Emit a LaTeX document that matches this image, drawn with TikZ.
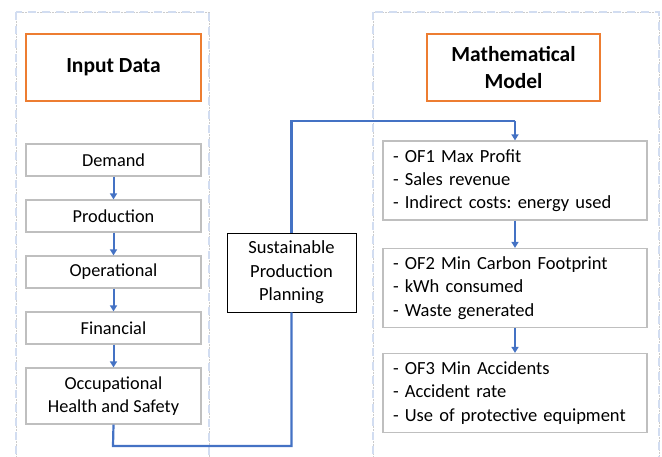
\documentclass[tikz,border=0pt]{standalone}
\usepackage{fontspec}
\setmainfont{Carlito}
\frenchspacing
\usetikzlibrary{arrows.meta}
\definecolor{cblue}{HTML}{4472C4}
\definecolor{corange}{HTML}{ED7D31}
\definecolor{cgrey}{HTML}{BFBFBF}
\definecolor{cdash}{HTML}{D2DDF1}
\tikzset{
  container/.style={draw=cdash, line width=2.4pt, dash pattern=on 8pt off 6pt},
  containerline/.style={draw=black!20, line width=0.6pt, dash pattern=on 2pt off 1pt},
  titlebox/.style={draw=corange, line width=1.2pt, font=\fontsize{21.5}{26.5}\selectfont\bfseries, align=center, inner sep=0pt},
  databox/.style={draw=cgrey, line width=1.2pt, font=\fontsize{18.3}{22.5}\selectfont, align=center, inner sep=0pt, minimum width=175pt},
  ofbox/.style={draw=cgrey, line width=1.2pt, font=\fontsize{18.5}{23.3}\selectfont, align=left, inner sep=0pt, text width=244pt, minimum width=264pt, minimum height=79pt},
  sppbox/.style={draw=black, line width=0.9pt, font=\fontsize{18.5}{23.5}\selectfont, align=center, inner sep=0pt, minimum width=129pt, minimum height=79pt},
  smallarrow/.style={draw=cblue, line width=2pt, -{Triangle[width=7pt,length=6pt]}},
  bigline/.style={draw=cblue, line width=2.2pt},
}
\begin{document}
\begin{tikzpicture}[x=1pt,y=-1pt]
\useasboundingbox (0,0) rectangle (662,457);
% containers
\draw[containerline] (16,12) rectangle (209,480);
\draw[container] (16,12) rectangle (209,480);
\draw[containerline] (373,12) rectangle (659,480);
\draw[container] (373,12) rectangle (659,480);
% titles
\node[titlebox, minimum width=175pt, minimum height=67pt] (input) at (113.5,67.5) {Input Data};
\node[titlebox, minimum width=173pt, minimum height=67pt] (model) at (513.5,67.5) {Mathematical\\Model};
% data boxes
\node[databox, minimum height=32pt] (demand) at (113.5,160) {Demand};
\node[databox, minimum height=32pt] (prod) at (113.5,216) {Production};
\node[databox, minimum height=32pt] (oper) at (113.5,272) {Operational};
\node[databox, minimum height=32pt] (fin) at (113.5,328) {Financial};
\node[databox, minimum height=56pt] (ohs) at (113.5,396) {Occupational\\Health and Safety};
% SPP
\node[sppbox] (spp) at (291.5,272.5) {Sustainable\\Production\\Planning};
% OF boxes
\node[ofbox] (of1) at (515,180.5) {- OF1 Max Profit\\- Sales revenue\\- Indirect costs: energy used};
\node[ofbox] (of2) at (515,288) {- OF2 Min Carbon Footprint\\- kWh consumed\\- Waste generated};
\node[ofbox] (of3) at (515,393) {- OF3 Min Accidents\\- Accident rate\\- Use of protective equipment};
% arrows
\draw[smallarrow] (demand) -- (prod);
\draw[smallarrow] (prod) -- (oper);
\draw[smallarrow] (oper) -- (fin);
\draw[smallarrow] (fin) -- (ohs);
\draw[smallarrow] (of1) -- (of2);
\draw[smallarrow] (of2) -- (of3);
% connectors
\coordinate (b1) at (113,446);
\coordinate (b2) at (291.5,446);
\draw[bigline] (ohs.south) -- (b1) -- (b2) -- (spp.south);
\coordinate (t1) at (291.5,121);
\coordinate (t2) at (515,121);
\draw[bigline] (spp.north) -- (t1) -- (t2);
\draw[smallarrow, line width=2.2pt] (t2) -- (of1.north);
\end{tikzpicture}
\end{document}
